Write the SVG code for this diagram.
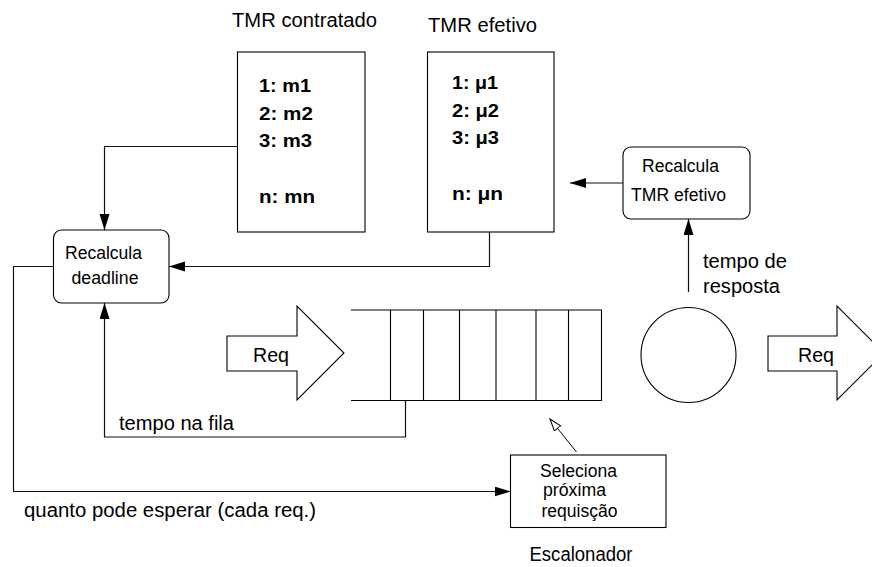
<svg xmlns="http://www.w3.org/2000/svg" width="872" height="567" viewBox="0 0 872 567">
<style>
text{font-family:"Liberation Sans",Arial,sans-serif;fill:#000}
.lbl{font-size:20px}
.box{font-size:17.5px}
.b{font-size:18.5px;font-weight:bold}
.sh{fill:#fff;stroke:#000;stroke-width:1.1}
.ln{fill:none;stroke:#111;stroke-width:1.2}
</style>
<defs>
<marker id="ah" markerUnits="userSpaceOnUse" markerWidth="17" markerHeight="11" refX="16" refY="5" orient="auto">
<path d="M0,0 L16,5 L0,10 z" fill="#000"/>
</marker>
<marker id="hollow" markerUnits="userSpaceOnUse" markerWidth="14" markerHeight="10" refX="12.5" refY="4.5" orient="auto">
<path d="M0.5,0.5 L12.5,4.5 L0.5,8.5 z" fill="#fff" stroke="#000" stroke-width="1"/>
</marker>
</defs>
<rect width="872" height="567" fill="#fff"/>

<g id="tmr-contratado">
<text class="lbl" x="232" y="27" textLength="145" lengthAdjust="spacingAndGlyphs">TMR contratado</text>
<rect class="sh" x="237.5" y="52" width="127.5" height="180"/>
<text class="b" x="259" y="92" textLength="52" lengthAdjust="spacingAndGlyphs">1: m1</text>
<text class="b" x="259" y="120" textLength="54" lengthAdjust="spacingAndGlyphs">2: m2</text>
<text class="b" x="259" y="147" textLength="53" lengthAdjust="spacingAndGlyphs">3: m3</text>
<text class="b" x="259" y="203" textLength="56" lengthAdjust="spacingAndGlyphs">n: mn</text>
</g>

<g id="tmr-efetivo">
<text class="lbl" x="428" y="31.5" textLength="109" lengthAdjust="spacingAndGlyphs">TMR efetivo</text>
<rect class="sh" x="427.5" y="52" width="126.5" height="180"/>
<text class="b" x="452" y="89" textLength="46" lengthAdjust="spacingAndGlyphs">1: μ1</text>
<text class="b" x="452" y="117" textLength="47" lengthAdjust="spacingAndGlyphs">2: μ2</text>
<text class="b" x="452" y="144" textLength="47" lengthAdjust="spacingAndGlyphs">3: μ3</text>
<text class="b" x="452" y="200" textLength="51" lengthAdjust="spacingAndGlyphs">n: μn</text>
</g>

<g id="recalcula-deadline">
<rect class="sh" x="53.5" y="230" width="115.5" height="73" rx="8"/>
<text class="box" x="65" y="259" textLength="77" lengthAdjust="spacingAndGlyphs">Recalcula</text>
<text class="box" x="71.5" y="284" textLength="67" lengthAdjust="spacingAndGlyphs">deadline</text>
</g>

<g id="recalcula-tmr">
<rect class="sh" x="623" y="147" width="127" height="72" rx="8"/>
<text class="box" x="642" y="172" textLength="77" lengthAdjust="spacingAndGlyphs">Recalcula</text>
<text class="box" x="631" y="201" textLength="95" lengthAdjust="spacingAndGlyphs">TMR efetivo</text>
</g>

<g id="req-in">
<polygon class="sh" points="227,336 297,336 297,306 344,353 297,400 297,371 227,371"/>
<text class="lbl" x="253" y="362" textLength="36" lengthAdjust="spacingAndGlyphs">Req</text>
</g>

<g id="fila">
<path class="sh" d="M351,310 H601.5 V400.5 H351" fill="none"/>
<path d="M390.5,310 V400.5 M423.5,310 V400.5 M459.5,310 V400.5 M496,310 V400.5 M536,310 V400.5 M568.5,310 V400.5" stroke="#000" stroke-width="1.1" fill="none"/>
</g>

<g id="servidor">
<circle class="sh" cx="688.5" cy="355" r="47.5"/>
</g>

<g id="req-out">
<polygon class="sh" points="768,336 837,336 837,306 884,353 837,400 837,371 768,371"/>
<text class="lbl" x="798" y="362" textLength="36" lengthAdjust="spacingAndGlyphs">Req</text>
</g>

<g id="escalonador">
<rect class="sh" x="510.5" y="455" width="155.5" height="72.5"/>
<text class="box" x="540" y="476.5" textLength="77" lengthAdjust="spacingAndGlyphs">Seleciona</text>
<text class="box" x="543" y="495.5" textLength="63" lengthAdjust="spacingAndGlyphs">próxima</text>
<text class="box" x="541.5" y="516.5" textLength="76" lengthAdjust="spacingAndGlyphs">requisção</text>
<text class="lbl" x="529.5" y="561" textLength="103" lengthAdjust="spacingAndGlyphs">Escalonador</text>
</g>

<g id="connectors">
<path class="ln" d="M237.5,146.5 H104.5 V230" marker-end="url(#ah)"/>
<path class="ln" d="M489.5,232 V266.5 H169" marker-end="url(#ah)"/>
<path class="ln" d="M623,183 H570" marker-end="url(#ah)"/>
<path class="ln" d="M688.5,292 V219" marker-end="url(#ah)"/>
<path class="ln" d="M405.5,400.5 V437 H104.5 V303" marker-end="url(#ah)"/>
<path class="ln" d="M53.5,266.5 H13.5 V491.5 H510.5" marker-end="url(#ah)"/>
<path d="M576.5,452 L550,419" stroke="#000" stroke-width="1" fill="none" marker-end="url(#hollow)"/>
<text class="lbl" x="703" y="267.5" textLength="84" lengthAdjust="spacingAndGlyphs">tempo de</text>
<text class="lbl" x="703" y="292.5" textLength="77" lengthAdjust="spacingAndGlyphs">resposta</text>
<text class="lbl" x="119" y="430" textLength="115" lengthAdjust="spacingAndGlyphs">tempo na fila</text>
<text class="lbl" x="24" y="517" textLength="292" lengthAdjust="spacingAndGlyphs">quanto pode esperar (cada req.)</text>
</g>
</svg>
